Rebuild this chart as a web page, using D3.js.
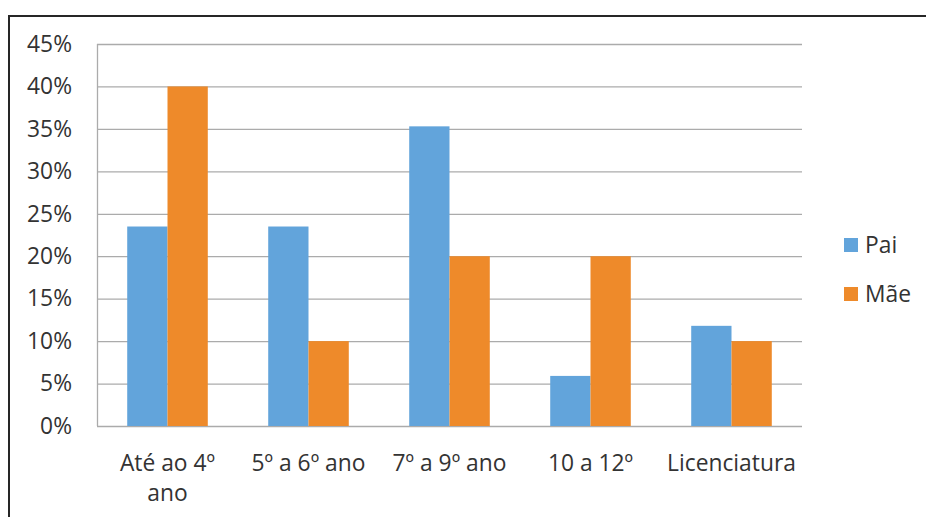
<!DOCTYPE html>
<html><head><meta charset="utf-8">
<script src="https://cdn.jsdelivr.net/npm/d3@7"></script>
<style>body{margin:0;background:#fff}svg{display:block}</style>
</head><body>
<svg id="c" width="926" height="517"></svg>
<script>
const categories = ["Até ao 4º ano","5º a 6º ano","7º a 9º ano","10 a 12º","Licenciatura"];
const categoryLines = [["Até ao 4º","ano"],["5º a 6º ano"],["7º a 9º ano"],["10 a 12º"],["Licenciatura"]];
const seriesNames = ["Pai","Mãe"];
const pai = [23.5, 23.5, 35.3, 5.9, 11.8];
const mae = [40, 10, 20, 20, 10];
const yTicks = [0,5,10,15,20,25,30,35,40,45];
const colors = ["#62A4DB","#EE8A2A"];

const svg = d3.select("#c");
const font = "'Open Sans', sans-serif";
const textColor = "#333333";
const fs = 22.8;
// frame
svg.append("rect").attr("x",9).attr("y",16).attr("width",940).attr("height",540)
  .attr("fill","none").attr("stroke","#262626").attr("stroke-width",2);

const L=97, R=802, T=44, B=426;
const x = d3.scaleBand().domain(categories).range([L,R]);
const y = d3.scaleLinear().domain([0,45]).range([B,T]);
const sub = d3.scaleBand().domain(seriesNames).range([0,x.bandwidth()]).paddingOuter(0.75).paddingInner(0);

// gridlines
svg.append("g").selectAll("line").data(yTicks).join("line")
  .attr("x1",L).attr("x2",R).attr("y1",d=>y(d)+0.5).attr("y2",d=>y(d)+0.5)
  .attr("stroke","#ABABAB").attr("stroke-width",1.3);
svg.append("line").attr("x1",L+0.5).attr("x2",L+0.5).attr("y1",T).attr("y2",B)
  .attr("stroke","#ABABAB").attr("stroke-width",1.3);

// y axis labels
const yAxis = d3.axisLeft(y).tickValues(yTicks).tickFormat(d=>d+"%").tickSize(0).tickPadding(25);
const ya = svg.append("g").attr("transform",`translate(${L},0)`).call(yAxis);
ya.select(".domain").remove();
ya.selectAll("text").attr("font-family",font).attr("font-size",fs).attr("fill",textColor);

// bars
const series = [pai, mae];
series.forEach((vals,si)=>{
  svg.append("g").selectAll("rect").data(vals).join("rect")
    .attr("x",(d,i)=>x(categories[i])+sub(seriesNames[si]))
    .attr("width",sub.bandwidth())
    .attr("y",d=>y(d)).attr("height",d=>B-y(d))
    .attr("fill",colors[si]);
});

// x labels
categories.forEach((c,i)=>{
  const t = svg.append("text").attr("x",x(c)+x.bandwidth()/2).attr("y",471)
    .attr("text-anchor","middle").attr("font-family",font).attr("font-size",fs).attr("fill",textColor);
  categoryLines[i].forEach((ln,j)=>{
    t.append("tspan").attr("x",x(c)+x.bandwidth()/2).attr("dy", j===0?0:29.5).text(ln);
  });
});

// legend
const lg = svg.append("g");
seriesNames.forEach((n,i)=>{
  lg.append("rect").attr("x",844).attr("y",238+i*49).attr("width",14).attr("height",14).attr("fill",colors[i]);
  lg.append("text").attr("x",865).attr("y",245+i*49).attr("dy","0.35em")
    .attr("font-family",font).attr("font-size",fs).attr("fill",textColor).text(n);
});
</script>
</body></html>
